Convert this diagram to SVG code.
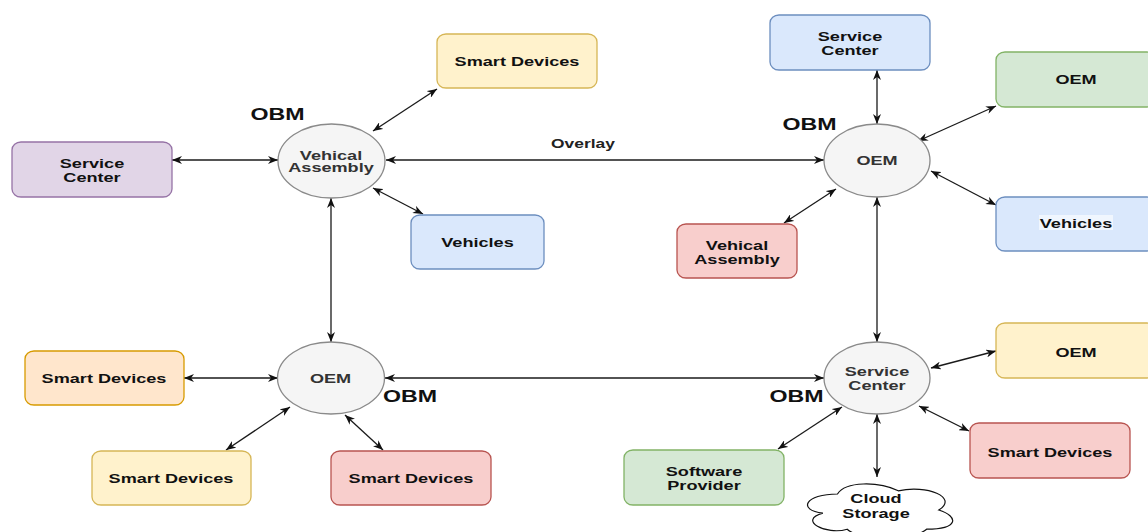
<svg xmlns="http://www.w3.org/2000/svg" width="1148" height="532" viewBox="0 0 1148 532">
  <style>
    .lbl { font-family: "Liberation Sans", Arial, Helvetica, sans-serif; font-weight: bold; font-size: 12.5px; fill: #111; text-anchor: middle; }
    .elbl { fill: #333; }
    .obm { font-size: 16px; fill: #111; }
    .ov { font-size: 12px; fill: #222; }
    .hub { fill: #f5f5f5; stroke: #8a8a8a; stroke-width: 1.3; }
    .box { stroke-width: 1.3; }
    .yellow { fill: #fff2cc; stroke: #d6b656; }
    .orange { fill: #ffe6cc; stroke: #d79b00; }
    .red { fill: #f8cecc; stroke: #b85450; }
    .green { fill: #d5e8d4; stroke: #82b366; }
    .blue { fill: #dae8fc; stroke: #6c8ebf; }
    .purple { fill: #e1d5e7; stroke: #9673a6; }
    .cloud { fill: #ffffff; stroke: #111; stroke-width: 1.2; }
    .edge { fill: none; stroke: #1a1a1a; stroke-width: 1.3; marker-start: url(#arrow); marker-end: url(#arrow); }
  </style>
  <defs>
    <marker id="arrow" viewBox="0 0 10 8" refX="10" refY="4" markerWidth="10" markerHeight="8" markerUnits="userSpaceOnUse" orient="auto-start-reverse">
      <path d="M0,0 L10,4 L0,8 L3,4 Z" fill="#111"/>
    </marker>
  </defs>

  <rect width="1148" height="532" fill="#ffffff"/>

  <!-- connectors -->
  <g id="connectors">
    <line class="edge" x1="373" y1="131" x2="437" y2="89"/>
    <line class="edge" x1="172" y1="160" x2="278" y2="160"/>
    <line class="edge" x1="373" y1="188" x2="423" y2="214"/>
    <line class="edge" x1="386" y1="160" x2="824" y2="160"/>
    <line class="edge" x1="331" y1="198" x2="331" y2="342"/>
    <line class="edge" x1="877" y1="70" x2="877" y2="124"/>
    <line class="edge" x1="918" y1="141" x2="996" y2="106"/>
    <line class="edge" x1="931" y1="171" x2="996" y2="205"/>
    <line class="edge" x1="836" y1="189" x2="784" y2="223"/>
    <line class="edge" x1="877" y1="197" x2="877" y2="342"/>
    <line class="edge" x1="385" y1="378" x2="824" y2="378"/>
    <line class="edge" x1="184" y1="378" x2="278" y2="378"/>
    <line class="edge" x1="290" y1="407" x2="226" y2="450"/>
    <line class="edge" x1="345" y1="415" x2="383" y2="450"/>
    <line class="edge" x1="931" y1="368" x2="996" y2="351"/>
    <line class="edge" x1="919" y1="406" x2="969" y2="431"/>
    <line class="edge" x1="842" y1="407" x2="778" y2="449"/>
    <line class="edge" x1="877" y1="414" x2="877" y2="477"/>
    <text class="lbl ov" transform="translate(583,148) scale(1.45,1)">Overlay</text>
  </g>

  <!-- left hub: vehicle assembly -->
  <g id="hub-vehical-assembly">
    <ellipse class="hub" cx="331.5" cy="161" rx="53.5" ry="37"/>
    <text class="lbl elbl" transform="translate(331,159.5) scale(1.45,1)"><tspan x="0" y="0">Vehical</tspan><tspan x="0" y="13">Assembly</tspan></text>
    <text class="lbl obm" transform="translate(277.5,120) scale(1.45,1)">OBM</text>
  </g>

  <g id="smart-devices-top">
    <rect class="box yellow" x="437" y="34" width="160" height="54" rx="9" ry="8"/>
    <text class="lbl" transform="translate(517,65.5) scale(1.45,1)">Smart Devices</text>
  </g>

  <g id="service-center-left">
    <rect class="box purple" x="12" y="142" width="160" height="55" rx="9" ry="8"/>
    <text class="lbl" transform="translate(92,168) scale(1.45,1)"><tspan x="0" y="0">Service</tspan><tspan x="0" y="14">Center</tspan></text>
  </g>

  <g id="vehicles-left">
    <rect class="box blue" x="411" y="215" width="133" height="54" rx="9" ry="8"/>
    <text class="lbl" transform="translate(477.5,247) scale(1.45,1)">Vehicles</text>
  </g>

  <!-- right hub: OEM -->
  <g id="hub-oem-top">
    <ellipse class="hub" cx="877" cy="160.5" rx="53" ry="36.5"/>
    <text class="lbl elbl" transform="translate(877,165) scale(1.45,1)">OEM</text>
    <text class="lbl obm" transform="translate(809.5,129.5) scale(1.45,1)">OBM</text>
  </g>

  <g id="service-center-top">
    <rect class="box blue" x="770" y="15" width="160" height="55" rx="9" ry="8"/>
    <text class="lbl" transform="translate(850,40.5) scale(1.45,1)"><tspan x="0" y="0">Service</tspan><tspan x="0" y="14.5">Center</tspan></text>
  </g>

  <g id="oem-green">
    <rect class="box green" x="996" y="52" width="160" height="55" rx="9" ry="8"/>
    <text class="lbl" transform="translate(1076,84) scale(1.45,1)">OEM</text>
  </g>

  <g id="vehicles-right">
    <rect class="box blue" x="996" y="197" width="160" height="54" rx="9" ry="8"/>
    <rect x="1039" y="215" width="74" height="15" fill="#ffffff" opacity="0.6"/>
    <text class="lbl" transform="translate(1076,228) scale(1.45,1)">Vehicles</text>
  </g>

  <g id="vehical-assembly-red">
    <rect class="box red" x="677" y="224" width="120" height="54" rx="9" ry="8"/>
    <text class="lbl" transform="translate(737,250) scale(1.45,1)"><tspan x="0" y="0">Vehical</tspan><tspan x="0" y="14">Assembly</tspan></text>
  </g>

  <!-- bottom-left hub: OEM -->
  <g id="hub-oem-bottom">
    <ellipse class="hub" cx="331" cy="378" rx="53.5" ry="36"/>
    <text class="lbl elbl" transform="translate(330.5,383) scale(1.45,1)">OEM</text>
    <text class="lbl obm" transform="translate(410,401.5) scale(1.45,1)">OBM</text>
  </g>

  <g id="smart-devices-orange">
    <rect class="box orange" x="25" y="351" width="159" height="54" rx="9" ry="8"/>
    <text class="lbl" transform="translate(104,383) scale(1.45,1)">Smart Devices</text>
  </g>

  <g id="smart-devices-yellow">
    <rect class="box yellow" x="92" y="451" width="159" height="54" rx="9" ry="8"/>
    <text class="lbl" transform="translate(171,483) scale(1.45,1)">Smart Devices</text>
  </g>

  <g id="smart-devices-red-left">
    <rect class="box red" x="331" y="451" width="160" height="54" rx="9" ry="8"/>
    <text class="lbl" transform="translate(411,483) scale(1.45,1)">Smart Devices</text>
  </g>

  <!-- bottom-right hub: service center -->
  <g id="hub-service-center">
    <ellipse class="hub" cx="877" cy="378" rx="53" ry="36"/>
    <text class="lbl elbl" transform="translate(877,376) scale(1.45,1)"><tspan x="0" y="0">Service</tspan><tspan x="0" y="14.5">Center</tspan></text>
    <text class="lbl obm" transform="translate(796.5,401.5) scale(1.45,1)">OBM</text>
  </g>

  <g id="oem-yellow">
    <rect class="box yellow" x="996" y="323" width="160" height="55" rx="9" ry="8"/>
    <text class="lbl" transform="translate(1076,356.5) scale(1.45,1)">OEM</text>
  </g>

  <g id="smart-devices-red-right">
    <rect class="box red" x="970" y="423" width="160" height="55" rx="9" ry="8"/>
    <text class="lbl" transform="translate(1050,456.5) scale(1.45,1)">Smart Devices</text>
  </g>

  <g id="software-provider">
    <rect class="box green" x="624" y="450" width="160" height="55" rx="9" ry="8"/>
    <text class="lbl" transform="translate(704,476) scale(1.45,1)"><tspan x="0" y="0">Software</tspan><tspan x="0" y="14.5">Provider</tspan></text>
  </g>

  <g id="cloud-storage">
    <path class="cloud" d="M837.5,494 C805.1,494 797,510 822.9,513.2 C797,520.2 826.2,535.6 847.2,529.2 C861.8,542 910.4,542 926.6,529.2 C959,529.2 959,516.4 938.8,510 C959,497.2 926.6,484.4 898.3,490.8 C878,481.2 845.6,481.2 837.5,494 Z"/>
    <text class="lbl" transform="translate(876,503.3) scale(1.45,1)"><tspan x="0" y="0">Cloud</tspan><tspan x="0" y="14.5">Storage</tspan></text>
  </g>
</svg>
